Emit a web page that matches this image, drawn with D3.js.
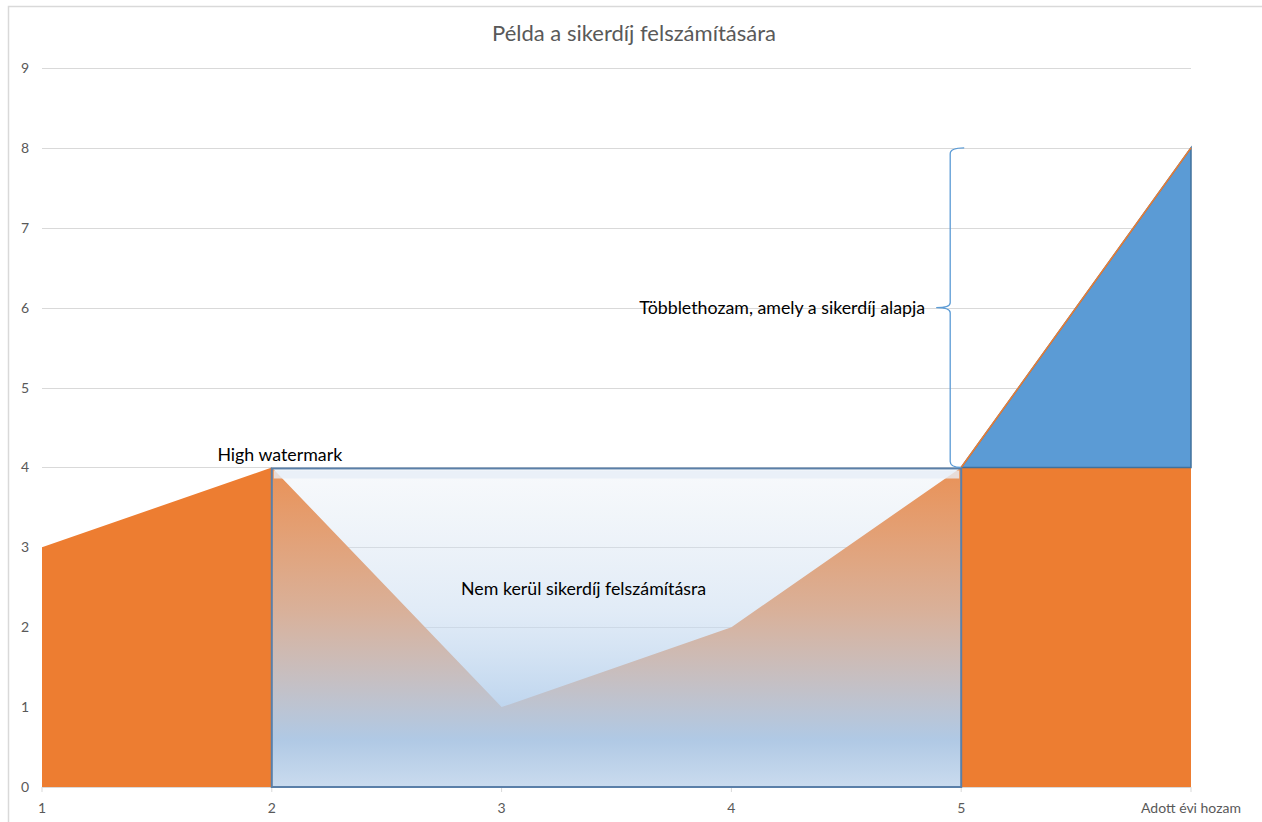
<!DOCTYPE html>
<html>
<head>
<meta charset="utf-8">
<script src="https://cdn.jsdelivr.net/npm/d3@7"></script>
<style>
  body { margin: 0; background: #fff; }
  svg text { font-family: Lato, "Open Sans", sans-serif; }
</style>
</head>
<body>
<svg id="chart" width="1262" height="822"></svg>
<script>
// chart data
const categories = ["1", "2", "3", "4", "5", "Adott évi hozam"];
const returns = [3, 4, 1, 2, 4, 8];
const highWatermark = 4;
const yTicks = [0, 1, 2, 3, 4, 5, 6, 7, 8, 9];
const noFeeRange = ["2", "5"];
const title = "Példa a sikerdíj felszámítására";

const svg = d3.select("#chart");
const width = 1262, height = 822;
const margin = { top: 68, right: 71, bottom: 35, left: 42 };

// outer chart border
svg.append("rect").attr("x", 8.5).attr("y", 6.5).attr("width", 1262).attr("height", 830)
   .attr("fill", "#fff").attr("stroke", "#d9d9d9").attr("stroke-width", 1.5);

const x = d3.scalePoint().domain(categories).range([margin.left, width - margin.right]);
const y = d3.scaleLinear().domain([0, 9]).range([height - margin.bottom, margin.top]);

// gradient used by the "no fee" box
const defs = svg.append("defs");
const grad = defs.append("linearGradient").attr("id", "nofee").attr("x1", 0).attr("y1", 0).attr("x2", 0).attr("y2", 1);
grad.append("stop").attr("offset", "0%").attr("stop-color", "#d8e2ee").attr("stop-opacity", 0.2);
grad.append("stop").attr("offset", "45%").attr("stop-color", "#c8dbf0").attr("stop-opacity", 0.55);
grad.append("stop").attr("offset", "85%").attr("stop-color", "#aecbea").attr("stop-opacity", 0.97);
grad.append("stop").attr("offset", "100%").attr("stop-color", "#c9ddf2").attr("stop-opacity", 0.98);

// gridlines + y labels
svg.append("g").selectAll("line").data(yTicks.filter(d => d > 0)).join("line")
   .attr("x1", margin.left).attr("x2", width - margin.right)
   .attr("y1", d => Math.round(y(d)) + 0.5).attr("y2", d => Math.round(y(d)) + 0.5)
   .attr("stroke", "#d9d9d9").attr("stroke-width", 1);
svg.append("g").selectAll("text").data(yTicks).join("text")
   .attr("x", 29).attr("y", d => y(d) + 5).attr("text-anchor", "end")
   .attr("fill", "#595959").style("font-size", "14px").text(d => d);

// orange return area
const area = d3.area().x((d, i) => x(categories[i])).y0(y(0)).y1(d => y(d));
svg.append("path").datum(returns).attr("d", area).attr("fill", "#ED7D31");

// blue excess return triangle (above the high watermark)
const last = returns.length - 1;
const excess = [last - 1, last];
const excessArea = d3.area().x(i => x(categories[i])).y0(y(highWatermark)).y1(i => y(returns[i]));
svg.append("path").datum(excess).attr("d", excessArea)
   .attr("fill", "#5B9BD5").attr("stroke", "#41719C").attr("stroke-width", 1.5);
svg.append("path").datum(excess)
   .attr("d", d3.line().x(i => x(categories[i])).y(i => y(returns[i])))
   .attr("stroke", "#ED7D31").attr("stroke-width", 1.5).attr("fill", "none");

// x axis line and ticks
svg.append("line").attr("x1", margin.left).attr("x2", width - margin.right)
   .attr("y1", y(0) + 0.5).attr("y2", y(0) + 0.5).attr("stroke", "#d9d9d9");
svg.append("g").selectAll("line").data(categories).join("line")
   .attr("x1", d => x(d)).attr("x2", d => x(d))
   .attr("y1", y(0)).attr("y2", y(0) + 5).attr("stroke", "#d9d9d9");
svg.append("g").selectAll("text").data(categories).join("text")
   .attr("x", d => x(d)).attr("y", y(0) + 26).attr("text-anchor", "middle")
   .attr("fill", "#595959").style("font-size", "14px").text(d => d);

// "no fee" box between the two watermark points
const bx0 = x(noFeeRange[0]), bx1 = x(noFeeRange[1]);
svg.append("rect").attr("x", bx0).attr("y", y(highWatermark) + 1)
   .attr("width", bx1 - bx0).attr("height", y(0) - y(highWatermark) - 1)
   .attr("fill", "url(#nofee)").attr("stroke", "#5a7fa8").attr("stroke-width", 2);
svg.append("line").attr("x1", bx0 + 2).attr("x2", bx1 - 2)
   .attr("y1", y(highWatermark) + 7).attr("y2", y(highWatermark) + 7)
   .attr("stroke", "#e8eff8").attr("stroke-width", 8).attr("opacity", 0.8);

// curly brace marking the excess return
const braceX = x(noFeeRange[1]) - 11;
const yTop = y(returns[last]), yBot = y(highWatermark), yMid = (yTop + yBot) / 2;
const brace = d3.path();
brace.moveTo(braceX + 14, yTop);
brace.quadraticCurveTo(braceX, yTop, braceX, yTop + 6);
brace.lineTo(braceX, yMid - 5);
brace.quadraticCurveTo(braceX, yMid, braceX - 14, yMid);
brace.quadraticCurveTo(braceX, yMid, braceX, yMid + 5);
brace.lineTo(braceX, yBot - 6);
brace.quadraticCurveTo(braceX, yBot, braceX + 11, yBot);
svg.append("path").attr("d", brace.toString()).attr("fill", "none")
   .attr("stroke", "#5B9BD5").attr("stroke-width", 1.3);

// annotations
svg.append("text").attr("x", braceX - 25).attr("y", yMid + 6).attr("text-anchor", "end")
   .attr("fill", "#000").style("font-size", "17.8px").text("Többlethozam, amely a sikerdíj alapja");
svg.append("text").attr("x", x("2") + 8).attr("y", y(highWatermark) - 6).attr("text-anchor", "middle")
   .attr("fill", "#000").style("font-size", "17.8px").text("High watermark");
svg.append("text").attr("x", x("3") + 82).attr("y", y(2.5) + 8).attr("text-anchor", "middle")
   .attr("fill", "#000").style("font-size", "17.8px").text("Nem kerül sikerdíj felszámításra");

// title
svg.append("text").attr("x", 634).attr("y", 41).attr("text-anchor", "middle")
   .attr("fill", "#595959").style("font-size", "22px").text(title);
</script>
</body>
</html>
